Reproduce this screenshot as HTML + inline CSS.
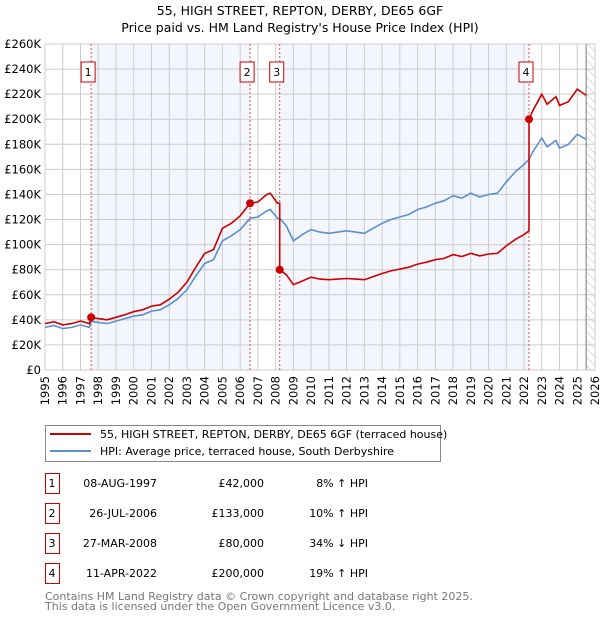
<!DOCTYPE html>
<html><head><meta charset="utf-8"><style>
body{margin:0;background:#fff;font-family:"DejaVu Sans","Liberation Sans",sans-serif;}
svg text{font-family:"DejaVu Sans","Liberation Sans",sans-serif;}
</style></head><body>
<svg id="c" width="600" height="620" xmlns="http://www.w3.org/2000/svg">
<defs><pattern id="hatch" width="6" height="6" patternUnits="userSpaceOnUse" patternTransform="rotate(-45)"><line x1="0" y1="0" x2="0" y2="6" stroke="#bbb" stroke-width="1"/></pattern></defs>
<text x="300" y="15" text-anchor="middle" font-size="12.5">55, HIGH STREET, REPTON, DERBY, DE65 6GF</text>
<text x="300" y="32" text-anchor="middle" font-size="12.5">Price paid vs. HM Land Registry's House Price Index (HPI)</text>
<g id="plot"></g>
<g>
<rect x="45.5" y="425.5" width="395" height="36" fill="#fff" stroke="#888"/>
<line x1="50" y1="434" x2="91" y2="434" stroke="#cc0000" stroke-width="2"/>
<text x="100" y="438" font-size="11">55, HIGH STREET, REPTON, DERBY, DE65 6GF (terraced house)</text>
<line x1="50" y1="451" x2="91" y2="451" stroke="#5b8fd0" stroke-width="2"/>
<text x="100" y="455" font-size="11">HPI: Average price, terraced house, South Derbyshire</text>
</g>
<g id="tbl" font-size="11"></g>
<text x="45" y="600" font-size="11" fill="#777">Contains HM Land Registry data © Crown copyright and database right 2025.</text>
<text x="45" y="610" font-size="11" fill="#777">This data is licensed under the Open Government Licence v3.0.</text>
</svg>
<script>
const dates=[1995,1995.5,1996,1996.5,1997,1997.5,1997.6,1998,1998.5,1999,1999.5,2000,2000.5,2001,2001.5,2002,2002.5,2003,2003.5,2004,2004.5,2005,2005.5,2006,2006.56,2007,2007.5,2007.7,2008.1,2008.23,2008.23,2008.6,2009,2009.5,2010,2010.5,2011,2011.5,2012,2012.5,2013,2013.5,2014,2014.5,2015,2015.5,2016,2016.5,2017,2017.5,2018,2018.5,2019,2019.5,2020,2020.5,2021,2021.5,2022,2022.28,2022.28,2022.5,2023,2023.3,2023.8,2024,2024.5,2025,2025.5];
const hpiValues=[34,35.5,33,34,36,34,38.8,38,37,39,41,43,44,47,48,52,57,64,75,85,88,103,107,112,121,122,127,128,121,121,121,115,103,108,112,110,109,110,111,110,109,113,117,120,122,124,128,130,133,135,139,137,141,138,140,141,150,158,164,168,168,174,185,178,183,177,180,188,184];
const priceValues=[37,38.5,36,37,39,37,42,41,40,42,44,46.5,48,51,52,56.5,62,70,82,93,96,113,117,123,133,134,140,141,133,133,80,76,68,71,74,72.5,72,72.5,73,72.5,72,74.5,77,79,80.5,82,84.5,86,88,89,92,90.5,93,91,92.5,93,99,104,108,111,200,207,220,212,218,211,214,224,219];
const saleDates=[1997.6,2006.56,2008.23,2022.28];
const salePrices=[42,133,80,200];
const saleLabels=["1","2","3","4"];
const yTicks=[0,20,40,60,80,100,120,140,160,180,200,220,240,260];
const yTickLabels=["£0","£20K","£40K","£60K","£80K","£100K","£120K","£140K","£160K","£180K","£200K","£220K","£240K","£260K"];
const xTicks=[1995,1996,1997,1998,1999,2000,2001,2002,2003,2004,2005,2006,2007,2008,2009,2010,2011,2012,2013,2014,2015,2016,2017,2018,2019,2020,2021,2022,2023,2024,2025,2026];
const tblDates=["08-AUG-1997","26-JUL-2006","27-MAR-2008","11-APR-2022"];
const tblPrices=["£42,000","£133,000","£80,000","£200,000"];
const tblHpi=["8% ↑ HPI","10% ↑ HPI","34% ↓ HPI","19% ↑ HPI"];

const X0=45,X1=595,Y0=370,Y1=44;
const xs=v=>X0+(v-1995)/(2026-1995)*(X1-X0);
const ys=v=>Y0-v/260*(Y0-Y1);
const NS="http://www.w3.org/2000/svg";
const plot=document.getElementById('plot');
function mk(tag,attrs,parent){const e=document.createElementNS(NS,tag);for(const k in attrs)e.setAttribute(k,attrs[k]);(parent||plot).appendChild(e);return e;}
mk('rect',{x:X0,y:Y1,width:X1-X0,height:Y0-Y1,fill:'#fff'});
let s=mk('rect',{x:xs(saleDates[0]),y:Y1,width:xs(saleDates[1])-xs(saleDates[0]),height:Y0-Y1,fill:'#f3f6fd'});


s=mk('rect',{x:xs(saleDates[2]),y:Y1,width:xs(saleDates[3])-xs(saleDates[2]),height:Y0-Y1,fill:'#f3f6fd'});


const hx=xs(2025.5);
s=mk('rect',{x:hx,y:Y1,width:X1-hx,height:Y0-Y1,fill:'url(#hatch)'});


yTicks.forEach((t,i)=>{
  const l=mk('line',{x1:X0,x2:X1,y1:ys(t),y2:ys(t),stroke:'#cccccc','stroke-width':1});
  
  
  const tx=mk('text',{x:X0-4,y:ys(t)+4,'text-anchor':'end','font-size':'11.5'});
  tx.textContent=yTickLabels[i];
  
  
});
xTicks.forEach(t=>{
  const l=mk('line',{x1:xs(t),x2:xs(t),y1:Y1,y2:Y0,stroke:'#cccccc','stroke-width':1});
  
  
  const tx=mk('text',{x:0,y:0,'text-anchor':'end','font-size':'11.5',transform:`translate(${xs(t)+4},${Y0+6}) rotate(-90)`});
  tx.textContent=t;
  
  
});
s=mk('line',{x1:hx,x2:hx,y1:Y1,y2:Y0,stroke:'#777','stroke-width':1});


s=mk('rect',{x:X0,y:Y1,width:X1-X0,height:Y0-Y1,fill:'none',stroke:'#ccc'});


saleDates.forEach((d,i)=>{
  const l=mk('line',{x1:xs(d),x2:xs(d),y1:Y1,y2:Y0,stroke:'#e05050','stroke-width':1,'stroke-dasharray':'2,2'});
  
  
  const cx=xs(d)-3;
  const b=mk('rect',{x:cx-7,y:62,width:14,height:20,fill:'#fff',stroke:'#cc0000'});
  
  
  const t=mk('text',{x:cx,y:76,'text-anchor':'middle','font-size':'11'});
  t.textContent=saleLabels[i];
  
  
});
const path=v=>v.map((y,i)=>(i?'L':'M')+xs(dates[i]).toFixed(1)+','+ys(y).toFixed(1)).join('');
s=mk('path',{d:path(hpiValues),fill:'none',stroke:'#5b8fd0','stroke-width':1.6});


s=mk('path',{d:path(priceValues),fill:'none',stroke:'#cc0000','stroke-width':1.6});


saleDates.forEach((d,i)=>{
  const c=mk('circle',{cx:xs(d),cy:ys(salePrices[i]),r:4,fill:'#cc0000'});
  
  
});
const tbl=document.getElementById('tbl');
saleLabels.forEach((lab,i)=>{
  const cy=483+i*30;
  const b=mk('rect',{x:45.5,y:cy-9.5,width:14,height:20,fill:'#fff',stroke:'#cc0000'},tbl);
  
  
  const cells=[[52,lab,'middle','table-marker-label'],[157,tblDates[i],'end','table-date'],[264,tblPrices[i],'end','table-price'],[368,tblHpi[i],'end','table-hpi-diff']];
  cells.forEach(c=>{
    const t=mk('text',{x:c[0],y:cy+4,'text-anchor':c[2]},tbl);
    t.textContent=c[1];
    
    
  });
});
</script>
</body></html>
